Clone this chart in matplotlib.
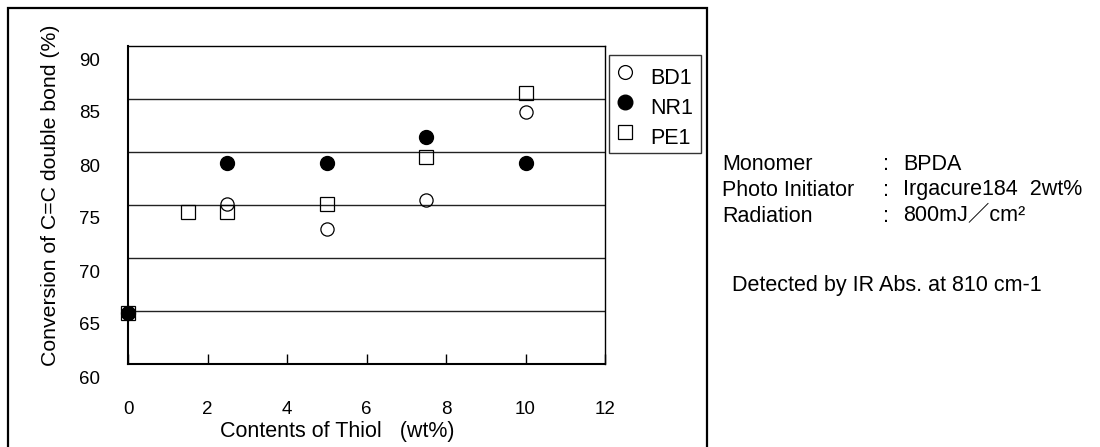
import matplotlib
matplotlib.use('Agg')
import matplotlib.pyplot as plt
from matplotlib.transforms import ScaledTranslation
from matplotlib.patches import Rectangle

plt.rcParams['font.family'] = ['Liberation Sans', 'Noto Sans CJK JP', 'DejaVu Sans']

# data
bd1_x = [0, 2.5, 5, 7.5, 10]
bd1_y = [64.8, 75.1, 72.7, 75.5, 83.8]
nr1_x = [0, 2.5, 5, 7.5, 10]
nr1_y = [64.8, 79.0, 79.0, 81.4, 79.0]
pe1_x = [0, 1.5, 2.5, 5, 7.5, 10]
pe1_y = [64.8, 74.3, 74.3, 75.1, 79.5, 85.6]

x_ticks = [0, 2, 4, 6, 8, 10, 12]
y_ticks = [60, 65, 70, 75, 80, 85, 90]
grid_y = [65, 70, 75, 80, 85]

W, H = 1100, 447
fig = plt.figure(figsize=(11, 4.47), dpi=100)
ax = fig.add_axes([128 / W, 1 - 364 / H, 477 / W, 318 / H])

# outer frame of the chart area
fig.patches.append(Rectangle((8 / W, -0.05), 699 / W, 1.05 - 8 / H, transform=fig.transFigure,
                             fill=False, edgecolor='black', linewidth=1.6))

for g in grid_y:
    ax.axhline(g, color='#222222', linewidth=1.0, zorder=1)

ax.plot(pe1_x, pe1_y, linestyle='none', marker='s', markersize=10, markerfacecolor='none',
        markeredgecolor='black', markeredgewidth=0.9, label='PE1', clip_on=False, zorder=3)
ax.plot(bd1_x, bd1_y, linestyle='none', marker='o', markersize=9.5, markerfacecolor='none',
        markeredgecolor='black', markeredgewidth=0.9, label='BD1', clip_on=False, zorder=3)
ax.plot(nr1_x, nr1_y, linestyle='none', marker='o', markersize=10, markerfacecolor='black',
        markeredgecolor='black', label='NR1', clip_on=False, zorder=4)

ax.set_xlim(0, 12)
ax.set_ylim(60, 90)
ax.set_xticks(x_ticks)
ax.set_yticks(y_ticks)
ax.set_xticklabels([str(t) for t in x_ticks], fontsize=13.5)
ax.set_yticklabels([str(t) for t in y_ticks], fontsize=13.5)
ax.tick_params(axis='x', direction='in', length=7, width=1, pad=27)
ax.tick_params(axis='y', length=0, pad=20)

# Excel-style: y tick labels sit a bit below their gridlines
for lab in ax.get_yticklabels():
    lab.set_transform(lab.get_transform() + ScaledTranslation(0, -13 / 100, fig.dpi_scale_trans))

for s in ['left', 'bottom']:
    ax.spines[s].set_linewidth(1.5)
for s in ['top', 'right']:
    ax.spines[s].set_linewidth(1.0)

fig.text(337 / W, 1 - 431 / H, 'Contents of Thiol   (wt%)', fontsize=15.5, ha='center', va='center')
fig.text(51 / W, 1 - 195 / H, 'Conversion of C=C double bond (%)', fontsize=15.3,
         rotation=90, ha='center', va='center')

h, l = ax.get_legend_handles_labels()
order = [1, 2, 0]
leg = fig.legend([h[i] for i in order], [l[i] for i in order], loc='upper left',
                 bbox_to_anchor=(609 / W, 1 - 55 / H), fontsize=15.5, frameon=True,
                 fancybox=False, edgecolor='black', handlelength=0.7, handletextpad=0.8,
                 labelspacing=0.42, borderpad=0.4, borderaxespad=0, markerscale=1.05)
leg.get_frame().set_linewidth(1.0)
# legend labels sit a little lower than their markers
for t in leg.get_texts():
    t.set_y(-4)

# conditions text on the right
rows = [('Monomer', 'BPDA'), ('Photo Initiator', 'Irgacure184  2wt%'), ('Radiation', '800mJ／cm²')]
for i, (k, v) in enumerate(rows):
    y = 1 - (164 + 26 * i) / H
    fig.text(722 / W, y, k, fontsize=15.5, va='center')
    fig.text(883 / W, y, ':', fontsize=15.5, va='center')
    fig.text(903 / W, y, v, fontsize=15.5, va='center')
fig.text(732 / W, 1 - 285 / H, 'Detected by IR Abs. at 810 cm-1', fontsize=15.5, va='center')

fig.savefig('out.png', dpi=100)
